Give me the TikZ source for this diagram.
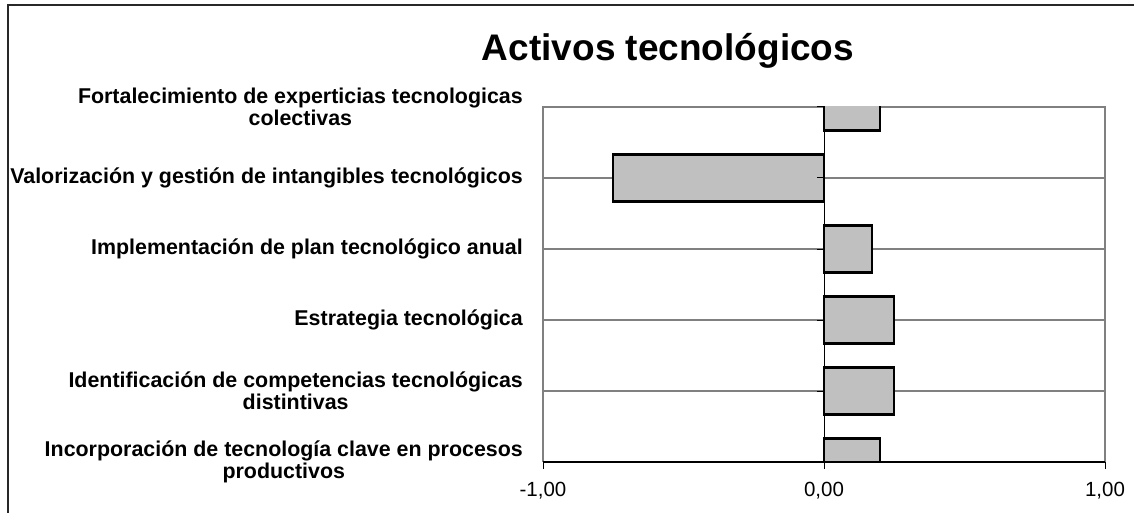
\documentclass[tikz,border=0pt]{standalone}
\usepackage{fontspec}
\setmainfont{Liberation Sans}
\begin{document}
\begin{tikzpicture}[x=1pt,y=-1pt,
	barbox/.style={fill={rgb,255:red,192;green,192;blue,192}, draw=black, line width=2.4pt},
	gridline/.style={draw={rgb,255:red,128;green,128;blue,128}, line width=1.3pt},
	catlabel/.style={anchor=east, align=center, inner sep=0pt, font=\fontsize{21.4}{21.5}\selectfont\bfseries},
	ticklabel/.style={inner sep=0pt, font=\fontsize{20.5}{22}\selectfont}]
			\useasboundingbox (0,0) rectangle (1134,513);
			\draw[line width=1.5pt, color={rgb,255:red,40;green,40;blue,40}] (8,513) -- (8,5) -- (1134,5);
			\node (title) at (668,51) {\fontsize{37}{40}\selectfont\bfseries Activos tecnológicos};
			% grid and frame
			\foreach \y in {178,249,320,391}
			\draw[gridline] (543,\y) -- (1105,\y);
			\draw[gridline, line width=1.8pt] (543,462) -- (543,107) -- (1105,107) -- (1105,462);
			% bars
			\begin{scope}
			\clip (543,107) rectangle (1105,462);
			\foreach \v [count=\i] in {0.20,-0.75,0.17,0.25,0.25,0.20}
			\draw[barbox] (824,{107+71*(\i-1)-23.5}) rectangle ({824+281*\v},{107+71*(\i-1)+23.5});
			\end{scope}
			% axes
			\draw[line width=1pt] (824,107) -- (824,462);
			\foreach \y in {107,178,249,320,391,462}
			\draw[line width=1pt] (817,\y) -- (824,\y);
			\draw[line width=1.3pt] (543,462) -- (1105,462);
			\foreach \x in {543,824,1105}
			\draw[line width=1pt] (\x,462) -- (\x,469);
			\node[ticklabel] (tm) at (543,491) {-1,00};
			\node[ticklabel] (tz) at (824,491) {0,00};
			\node[ticklabel] (tp) at (1105,491) {1,00};
			% categories
			\node[catlabel] (cat1) at (523,107) {Fortalecimiento de experticias tecnologicas\\colectivas};
			\node[catlabel] (cat2) at (523,178) {Valorización y gestión de intangibles tecnológicos};
			\node[catlabel] (cat3) at (523,249) {Implementación de plan tecnológico anual};
			\node[catlabel] (cat4) at (523,320) {Estrategia tecnológica};
			\node[catlabel] (cat5) at (523,391) {Identificación de competencias tecnológicas\\distintivas};
			\node[catlabel] (cat6) at (523,462) {Incorporación de tecnología clave en procesos\\productivos};
		\end{tikzpicture}
\end{document}
